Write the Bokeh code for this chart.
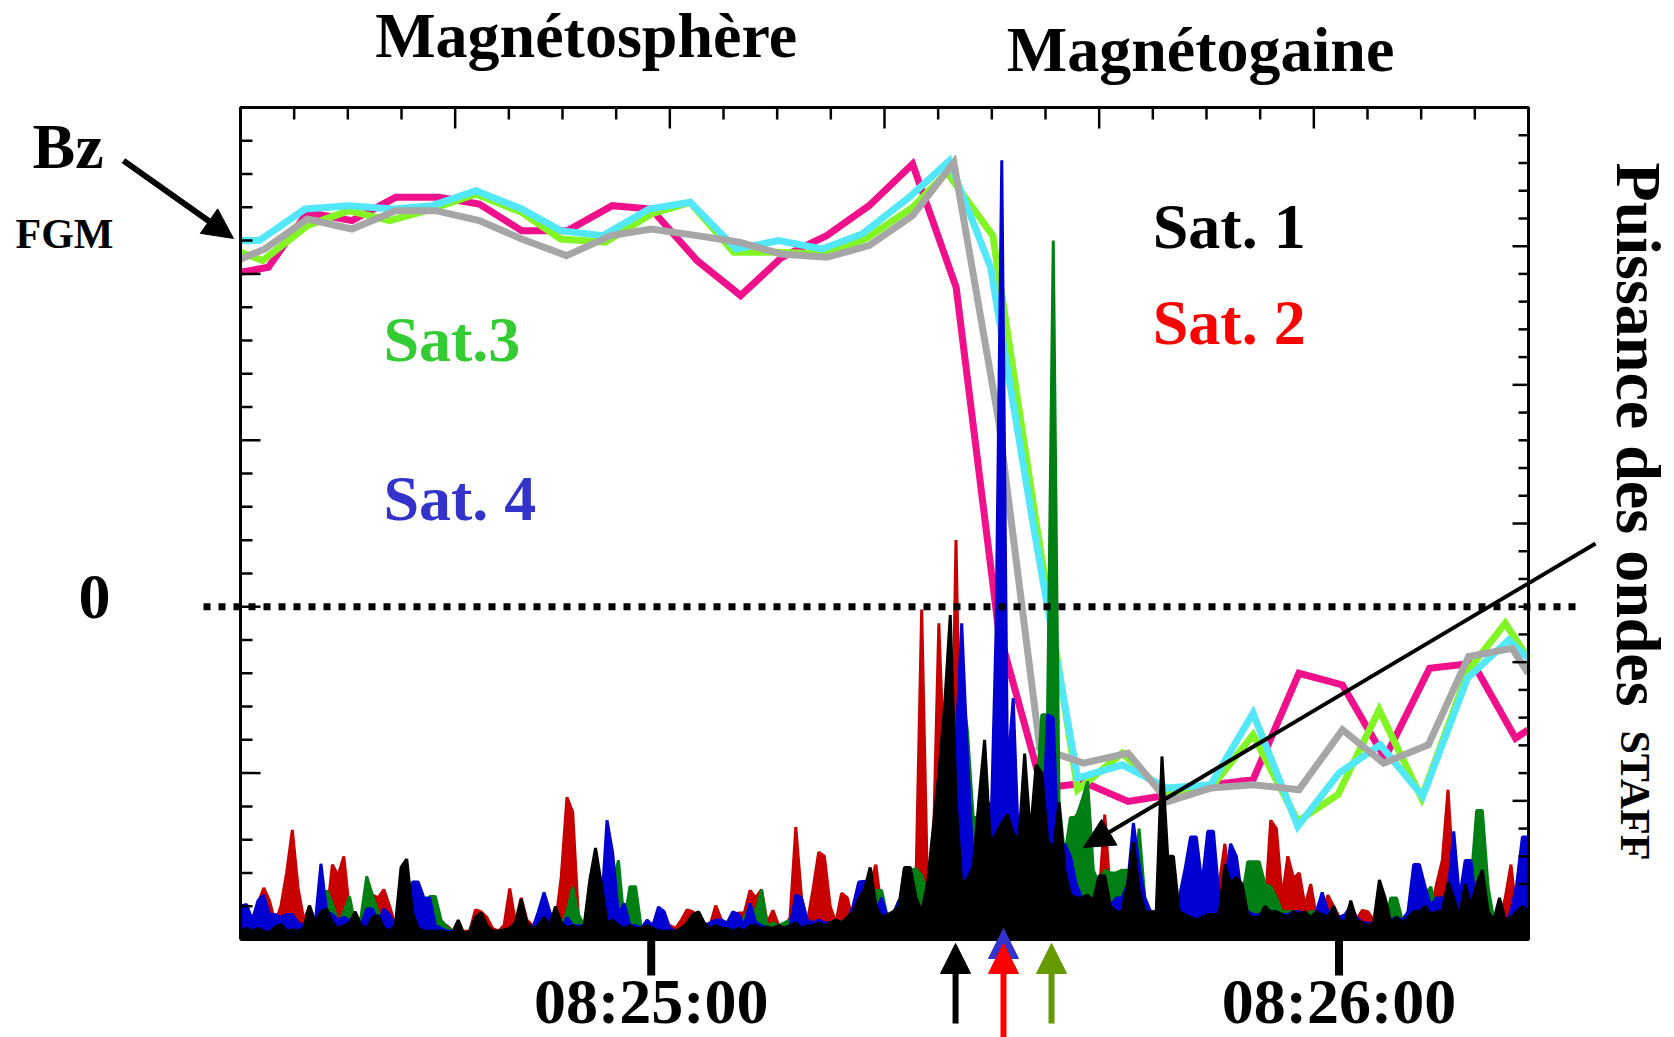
import numpy as np
from bokeh.plotting import figure
from bokeh.models import Range1d, Label, Arrow, NormalHead
from bokeh.embed import file_html
from bokeh.resources import INLINE

FONT = "Liberation Serif"

# ---------------- FGM Bz (nT); time in seconds relative to 08:25:00 ----------------
sat1_t = [-35.8, -33.7, -30.0, -26.1, -22.3, -18.8, -15.0, -11.3, -7.4, -3.5, 0.0, 4.0, 7.7, 11.3, 15.3, 19.0,
          22.8, 26.4, 30.3, 33.9, 37.7, 41.6, 45.1, 48.8, 52.5, 56.5, 60.3, 63.9, 67.8, 71.3, 75.1, 76.5]
sat1_bz = [20.9, 21.5, 23.3, 22.7, 23.8, 23.8, 23.2, 22.1, 21.1, 22.3, 22.7, 22.3, 21.9, 21.2, 21.0, 21.7,
           23.5, 26.7, 11.2, -8.5, -9.4, -8.8, -11.7, -10.9, -10.7, -11.0, -7.4, -9.4, -8.3, -3.0, -2.5, -4.0]

sat2_t = [-35.8, -33.4, -30.0, -26.1, -22.3, -18.5, -15.0, -11.3, -7.3, -3.4, 0.0, 4.0, 7.8, 11.4, 15.3, 19.0,
          22.8, 26.6, 30.3, 34.1, 37.9, 41.6, 45.3, 49.0, 52.5, 56.5, 60.3, 64.0, 67.9, 71.7, 75.4, 76.5]
sat2_bz = [20.1, 20.4, 23.7, 23.2, 24.6, 24.6, 24.2, 22.6, 22.6, 24.1, 23.9, 20.8, 18.7, 21.0, 22.3, 24.1,
           26.6, 19.2, -1.4, -10.9, -10.6, -11.7, -11.3, -10.7, -10.4, -4.0, -4.7, -9.1, -3.7, -3.4, -7.9, -7.4]

sat3_t = [-35.8, -33.9, -30.0, -26.4, -22.8, -19.1, -15.3, -11.3, -7.9, -4.0, 0.0, 3.4, 7.2, 10.9, 15.1, 18.7,
          22.8, 25.8, 29.8, 33.5, 37.2, 41.1, 45.0, 48.8, 52.5, 56.4, 59.9, 63.5, 67.2, 71.3, 74.5, 76.5]
sat3_bz = [21.3, 20.8, 22.9, 23.8, 23.2, 23.9, 24.8, 23.7, 22.1, 21.9, 23.6, 24.3, 21.3, 21.3, 21.2, 22.1,
           24.0, 26.1, 22.3, 5.4, -11.0, -8.8, -11.3, -10.9, -7.7, -12.9, -11.3, -6.2, -11.5, -3.8, -1.0, -3.1]

sat4_t = [-35.8, -34.2, -30.2, -26.4, -22.5, -19.1, -15.3, -11.3, -7.9, -4.2, -0.2, 3.4, 7.4, 11.1, 14.9, 18.4,
          22.5, 26.0, 29.6, 33.4, 37.2, 41.1, 45.0, 48.8, 52.5, 56.4, 60.0, 63.6, 67.3, 71.2, 74.8, 76.5]
sat4_bz = [22.0, 22.0, 23.9, 24.1, 23.9, 24.1, 25.0, 23.9, 22.6, 22.3, 23.9, 24.3, 21.5, 22.0, 21.5, 22.4,
           24.6, 26.8, 20.4, 4.6, -10.3, -9.5, -10.9, -10.7, -6.4, -13.2, -10.0, -8.3, -11.4, -4.3, -2.0, -3.1]

# ---------------- STAFF wave power (arbitrary units), regular sampling ----------------
staff_t0 = -35.8
staff_dt = 0.4991
staff_sat2_red = [
    0.5, 0.5, 0.7, 1.3, 1.86, 1.4, 0.6, 1.2, 2.4, 3.95,
    1.86, 0.7, 1.2, 0.6, 0.5, 0.8, 2.7, 2.3, 3.0, 1.0,
    0.5, 0.5, 0.7, 1.6, 1.5, 1.8, 1.2, 0.5, 0.4, 0.4,
    0.4, 0.3, 0.3, 0.3, 0.4, 0.56, 0.5, 0.3, 0.3, 0.3,
    0.3, 1.07, 1.0, 0.8, 0.4, 0.3, 0.5, 1.84, 0.6, 1.5,
    0.7, 0.5, 0.4, 0.5, 0.4, 0.6, 2.25, 5.13, 4.6, 0.8,
    0.4, 0.4, 0.4, 0.4, 0.4, 0.4, 0.3, 0.3, 0.3, 0.3,
    0.4, 0.3, 0.4, 0.3, 0.3, 0.5, 0.4, 0.7, 1.07, 1.0,
    0.8, 0.4, 0.5, 1.22, 0.7, 0.5, 0.8, 0.96, 0.96, 1.77,
    1.5, 1.8, 0.6, 1.05, 0.5, 0.4, 0.8, 4.05, 1.5, 0.6,
    1.8, 3.15, 3.0, 1.2, 0.6, 1.67, 1.5, 0.6, 0.5, 0.5,
    2.0, 2.7, 1.0, 0.8, 0.7, 1.0, 2.6, 2.5, 2.0, 11.9,
    2.0, 3.0, 11.4, 5.8, 2.5, 14.4, 3.0, 1.5, 1.5, 1.5,
    2.0, 4.95, 3.0, 15.0, 3.0, 2.0, 1.5, 1.5, 1.2, 1.0,
    1.0, 1.0, 1.0, 1.2, 1.5, 2.0, 4.5, 4.0, 1.5, 1.0,
    1.5, 4.5, 1.5, 1.0, 1.0, 0.8, 0.8, 0.7, 0.6, 0.6,
    0.6, 0.6, 0.7, 0.8, 1.2, 2.25, 1.0, 0.8, 0.8, 1.0,
    1.2, 2.0, 3.45, 1.5, 1.0, 0.8, 0.7, 0.7, 0.8, 1.0,
    4.3, 4.0, 1.5, 3.0, 2.2, 2.4, 1.2, 2.0, 0.8, 0.7,
    1.6, 1.2, 0.8, 0.7, 0.6, 0.7, 1.05, 1.0, 0.7, 0.6,
    0.6, 0.6, 0.6, 0.6, 0.7, 0.8, 0.8, 0.8, 1.0, 2.0,
    2.85, 5.4, 2.0, 1.2, 1.0, 1.0, 0.8, 0.8, 0.8, 0.7,
    0.7, 1.5, 2.7, 0.8, 0.8, 0.7]
staff_sat3_green = [
    0.3, 0.3, 0.4, 0.3, 0.3, 0.3, 0.4, 0.3, 0.3, 0.3,
    0.3, 0.3, 0.3, 0.4, 0.6, 1.77, 1.3, 0.6, 1.0, 1.55,
    0.5, 0.8, 2.27, 1.6, 1.0, 0.4, 0.3, 0.3, 0.3, 0.3,
    0.3, 0.3, 0.5, 1.55, 1.55, 0.7, 0.45, 0.3, 0.2, 0.2,
    0.2, 0.3, 0.3, 0.2, 0.3, 0.2, 0.3, 0.3, 0.2, 0.3,
    0.3, 0.3, 0.3, 0.3, 0.3, 0.4, 0.5, 1.0, 1.9, 0.9,
    0.5, 0.6, 1.0, 2.1, 1.5, 2.0, 2.85, 0.6, 1.9, 1.9,
    0.4, 0.3, 0.3, 0.3, 0.3, 0.3, 0.3, 0.3, 0.3, 0.3,
    0.3, 0.3, 0.3, 0.4, 0.3, 0.4, 0.5, 0.6, 0.8, 1.2,
    1.0, 1.8, 0.5, 0.6, 0.5, 0.6, 0.7, 1.0, 0.6, 0.5,
    0.5, 0.6, 0.5, 0.5, 0.6, 0.5, 0.6, 0.8, 1.0, 1.2,
    1.5, 1.77, 1.77, 0.8, 0.7, 0.8, 1.0, 2.5, 2.55, 2.3,
    1.5, 1.5, 2.0, 2.5, 3.0, 5.0, 9.2, 7.5, 4.4, 4.4,
    2.0, 2.0, 2.5, 3.0, 2.5, 2.5, 2.5, 2.5, 3.0, 5.0,
    8.1, 8.1, 25.2, 5.0, 3.0, 4.4, 4.4, 5.0, 5.7, 2.5,
    2.0, 2.5, 2.4, 2.4, 2.5, 2.5, 1.5, 4.0, 1.5, 1.0,
    0.8, 0.8, 1.0, 1.0, 0.8, 0.8, 1.0, 1.0, 1.0, 1.2,
    2.6, 1.5, 1.0, 1.0, 1.0, 1.5, 2.8, 2.8, 2.8, 2.0,
    1.9, 1.5, 1.0, 1.0, 1.0, 0.9, 0.9, 1.0, 1.0, 1.2,
    1.0, 0.8, 0.6, 0.5, 0.5, 0.5, 0.5, 0.5, 0.5, 0.6,
    0.6, 1.5, 1.5, 0.7, 0.7, 0.9, 1.2, 1.6, 1.9, 1.0,
    0.8, 0.8, 0.8, 0.8, 1.0, 2.0, 4.65, 4.65, 1.9, 0.7,
    0.5, 0.5, 0.5, 0.5, 0.6, 0.8]
staff_sat4_blue = [
    1.2, 1.26, 0.7, 1.4, 1.6, 0.9, 0.9, 0.8, 0.9, 0.9,
    0.6, 0.5, 0.5, 0.6, 2.73, 1.0, 0.9, 0.7, 0.8, 0.7,
    0.6, 0.5, 1.1, 1.1, 0.6, 1.1, 0.9, 0.4, 0.3, 0.3,
    2.07, 2.07, 1.5, 1.5, 0.5, 0.4, 0.3, 0.3, 0.2, 0.2,
    0.2, 0.3, 0.3, 0.3, 0.3, 0.3, 0.3, 0.3, 0.4, 0.4,
    0.4, 0.4, 1.0, 1.7, 1.0, 0.5, 0.4, 0.8, 0.5, 0.5,
    0.5, 0.6, 0.5, 1.0, 4.3, 3.1, 0.9, 1.3, 0.5, 0.5,
    0.4, 0.7, 0.5, 1.17, 1.0, 0.4, 0.3, 0.4, 0.5, 0.7,
    0.5, 0.5, 0.6, 0.7, 0.7, 0.6, 1.0, 0.9, 0.5, 1.3,
    0.6, 0.5, 0.4, 0.4, 0.5, 0.4, 0.5, 1.6, 1.5, 0.7,
    0.6, 0.7, 0.6, 0.6, 0.7, 0.6, 0.7, 1.2, 2.07, 2.1,
    1.5, 1.0, 1.5, 0.8, 0.9, 1.4, 1.35, 1.2, 1.0, 1.0,
    1.0, 1.5, 2.0, 3.0, 4.0, 7.0, 11.4, 6.6, 2.7, 2.0,
    2.0, 3.0, 11.1, 28.1, 6.0, 8.7, 3.0, 2.5, 2.0, 2.0,
    3.0, 8.1, 8.0, 2.5, 3.45, 3.0, 2.0, 1.5, 1.3, 1.2,
    1.0, 1.0, 1.2, 1.5, 1.5, 2.0, 4.2, 2.7, 1.5, 1.0,
    1.0, 1.0, 1.0, 1.2, 1.5, 2.5, 3.7, 3.7, 2.0, 3.9,
    3.9, 1.5, 2.0, 3.45, 3.0, 1.5, 1.0, 0.9, 0.9, 0.8,
    1.0, 1.0, 0.9, 0.9, 1.0, 1.0, 0.9, 0.8, 1.0, 1.7,
    1.0, 0.8, 0.8, 0.9, 1.2, 0.8, 0.6, 0.6, 0.5, 0.6,
    0.6, 0.7, 0.8, 0.7, 1.0, 2.7, 2.7, 1.9, 1.2, 1.5,
    1.5, 1.7, 3.9, 1.5, 2.85, 2.85, 1.0, 0.6, 0.5, 0.5,
    0.5, 0.6, 1.0, 2.0, 3.7, 3.7]
staff_sat1_black = [
    0.3, 0.4, 0.3, 0.4, 0.3, 0.25, 0.45, 0.55, 0.3, 0.35,
    0.3, 0.4, 1.23, 0.6, 1.0, 1.1, 0.6, 0.4, 0.5, 0.6,
    1.0, 0.5, 0.4, 0.8, 0.87, 0.4, 0.3, 0.5, 2.6, 2.9,
    0.96, 0.4, 0.3, 0.3, 0.3, 0.3, 0.25, 0.25, 0.7, 0.2,
    0.3, 0.8, 0.96, 0.5, 0.3, 0.3, 0.35, 0.4, 0.6, 1.45,
    0.6, 0.4, 0.5, 0.8, 0.5, 1.19, 0.6, 0.4, 0.5, 0.4,
    0.5, 2.15, 3.3, 2.0, 0.6, 0.7, 0.5, 0.4, 0.5, 0.4,
    0.4, 0.5, 0.4, 0.3, 0.3, 0.3, 0.3, 0.4, 0.6, 0.9,
    1.0, 0.6, 0.4, 0.5, 0.4, 0.4, 0.3, 0.4, 0.3, 0.5,
    0.5, 0.4, 0.45, 0.4, 0.5, 0.4, 0.5, 0.6, 0.4, 0.5,
    0.5, 0.6, 0.5, 0.6, 0.7, 0.6, 0.8, 1.0, 1.45, 1.8,
    2.6, 1.2, 0.8, 0.9, 1.0, 1.2, 2.6, 2.6, 1.5, 1.0,
    2.0, 4.0, 6.0, 8.4, 11.7, 5.0, 2.0, 2.2, 2.6, 5.0,
    7.2, 3.5, 3.8, 4.2, 4.5, 3.8, 3.6, 6.7, 3.8, 6.3,
    6.0, 3.6, 3.2, 4.95, 2.5, 1.6, 1.5, 1.5, 1.6, 1.4,
    2.3, 2.3, 1.2, 1.0, 1.0, 2.0, 3.5, 1.8, 1.0, 1.0,
    1.0, 6.6, 3.0, 3.0, 1.0, 0.9, 0.8, 0.7, 0.8, 0.9,
    0.9, 0.9, 2.7, 2.0, 2.25, 2.0, 0.9, 0.8, 0.8, 1.2,
    1.0, 1.0, 0.9, 0.8, 1.0, 0.9, 1.0, 0.8, 1.0, 0.9,
    0.8, 1.2, 0.7, 0.6, 1.4, 0.7, 0.6, 0.5, 0.6, 2.15,
    1.5, 0.6, 0.8, 0.6, 0.8, 1.0, 1.0, 1.2, 0.9, 1.0,
    1.0, 2.07, 1.5, 0.8, 2.0, 1.2, 2.0, 2.5, 1.0, 0.7,
    1.5, 0.7, 0.8, 1.0, 1.2, 1.0]

# ---------------- ticks / labels ----------------
time_ticks = [0, 60]
time_labels = ["08:25:00", "08:26:00"]
bz_major = [-20, -10, 0, 10, 20, 30]
bz_minor = list(range(-20, 31, 2))
pw_major = [0, 5, 10, 15, 20, 25, 30]
pw_minor = list(range(0, 31))
top_major = list(range(7))
top_minor = [i * 0.25 for i in range(25)]
crossing_t = {"sat1": 26.55, "sat2": 30.73, "sat4": 30.73, "sat3": 34.92}

# ---------------- geometry of the plot box (data units) ----------------
T_START, T_END = -35.83, 76.53
BZ_MIN, BZ_MAX = -20.0, 30.0
PW_MIN, PW_MAX = 0.0, 30.0
TOP_MIN, TOP_MAX = 0.0, 6.0
W, H = 1674, 1037
BOX_L, BOX_R, BOX_T, BOX_B = 240, 1528, 107, 939          # pixel box of the axes
PX_S = (BOX_R - BOX_L) / (T_END - T_START)                 # px per second
PX_NT = (BOX_B - BOX_T) / (BZ_MAX - BZ_MIN)                # px per nT
PX_PW = (BOX_B - BOX_T) / (PW_MAX - PW_MIN)
PX_TOP = (BOX_R - BOX_L) / (TOP_MAX - TOP_MIN)

x_rng = Range1d(T_START - BOX_L / PX_S, T_END + (W - BOX_R) / PX_S)
y_rng = Range1d(BZ_MIN - (H - BOX_B) / PX_NT, BZ_MAX + BOX_T / PX_NT)

p = figure(width=W, height=H, x_range=x_rng, y_range=y_rng,
           output_backend="svg", toolbar_location=None,
           x_axis_location=None, y_axis_location=None, min_border=0)
p.extra_y_ranges = {"power": Range1d(PW_MIN - (H - BOX_B) / PX_PW, PW_MAX + BOX_T / PX_PW)}
p.extra_x_ranges = {"top": Range1d(TOP_MIN - BOX_L / PX_TOP, TOP_MAX + (W - BOX_R) / PX_TOP)}
p.outline_line_color = None
p.xgrid.visible = False
p.ygrid.visible = False
p.background_fill_color = "white"
p.border_fill_color = "white"

# FGM Bz lines
for tt, bb, col in [(sat2_t, sat2_bz, "#f0108c"), (sat3_t, sat3_bz, "#84f524"),
                    (sat4_t, sat4_bz, "#52e8fa"), (sat1_t, sat1_bz, "#a6a6a6")]:
    p.line(tt, bb, line_color=col, line_width=7, line_join="miter")

# STAFF wave power
n = min(len(staff_sat2_red), len(staff_sat3_green), len(staff_sat4_blue), len(staff_sat1_black))
staff_t = staff_t0 + staff_dt * np.arange(n)
for vals, col in [(staff_sat2_red, "#c80000"), (staff_sat3_green, "#008014"),
                  (staff_sat4_blue, "#0000d2"), (staff_sat1_black, "#000000")]:
    v = vals[:n]
    p.varea(x=staff_t, y1=0, y2=v, fill_color=col, y_range_name="power")
    p.line(staff_t, v, line_color=col, line_width=3, y_range_name="power")

# axes box
p.line([T_START, T_START, T_END, T_END, T_START], [BZ_MIN, BZ_MAX, BZ_MAX, BZ_MIN, BZ_MIN],
       line_color="black", line_width=3)
# left ticks (Bz)
ll = [(20 if v in bz_major else 12) / PX_S for v in bz_minor]
p.segment(x0=[T_START] * len(bz_minor), y0=bz_minor, x1=[T_START + d for d in ll], y1=bz_minor,
          line_color="black", line_width=2.5)
# right ticks (wave power)
rl = [(16 if v in pw_major else 10) / PX_S for v in pw_minor]
p.segment(x0=[T_END - d for d in rl], y0=pw_minor, x1=[T_END] * len(pw_minor), y1=pw_minor,
          line_color="black", line_width=2.5, y_range_name="power")
# top ticks
tl = [(21 if v in top_major else 12) / PX_NT for v in top_minor]
p.segment(x0=top_minor, y0=[BZ_MAX] * len(top_minor), x1=top_minor, y1=[BZ_MAX - d for d in tl],
          line_color="black", line_width=2.5, x_range_name="top")
# bottom time ticks
p.segment(x0=time_ticks, y0=[BZ_MIN] * len(time_ticks), x1=time_ticks,
          y1=[BZ_MIN - 36 / PX_NT] * len(time_ticks), line_color="black", line_width=8, line_cap="butt")

# dotted zero line of Bz (extends beyond the box)
p.line([T_START - 37 / PX_S, T_END + 50 / PX_S], [0, 0], line_color="black", line_width=7,
       line_dash="7 8", line_cap="butt")


def txt(x, y, s, size, color="black", align="left", angle=0.0):
    # rendered alphabetic baseline sits ~1/3 em below the anchor: compensate
    fix = 0.333 * size
    if angle == 0.0:
        y = y + fix / PX_NT
    else:
        x = x + fix / PX_S
    p.add_layout(Label(x=x, y=y, text=s, text_font=FONT, text_font_style="bold",
                       text_font_size=f"{size}px", text_color=color, text_align=align,
                       text_baseline="alphabetic", angle=angle))


txt(-5.68, 33.06, "Magnétosphère", 64, align="center")
txt(47.92, 32.19, "Magnétogaine", 64, align="center")
txt(-53.97, 26.39, "Bz", 64)
txt(-55.46, 21.54, "FGM", 42)
txt(-47.17, -0.71, "0", 64, align="right")
txt(-23.36, 14.80, "Sat.3", 64, color="#33cc33")
txt(-23.36, 5.24, "Sat. 4", 64, color="#3333cc")
txt(43.75, 21.59, "Sat. 1", 64)
txt(43.75, 15.82, "Sat. 2", 64, color="#ff0000")
txt(84.30, 26.69, "Puissance des ondes", 64, angle=-np.pi / 2)
txt(84.56, -7.44, "STAFF", 42, angle=-np.pi / 2)
for tv, tlab in zip(time_ticks, time_labels):
    txt(tv, -25.0, tlab, 64, align="center")

# arrows
p.add_layout(Arrow(end=NormalHead(size=30, fill_color="black", line_color="black"),
                   x_start=-46.04, y_start=26.81, x_end=-36.44, y_end=22.13,
                   line_color="black", line_width=6))
p.add_layout(Arrow(end=NormalHead(size=30, fill_color="black", line_color="black"),
                   x_start=82.38, y_start=3.80, x_end=37.71, y_end=-14.47,
                   line_color="black", line_width=4))

# boundary-crossing markers below the time axis
p.add_layout(Arrow(end=NormalHead(size=30, fill_color="#3333cc", line_color="#3333cc"),
                   x_start=crossing_t["sat4"], y_start=-21.2, x_end=crossing_t["sat4"], y_end=-19.34,
                   line_color=None))
for key, col, y0 in [("sat1", "black", -25.05), ("sat2", "#ff0000", -26.5), ("sat3", "#669900", -25.05)]:
    p.add_layout(Arrow(end=NormalHead(size=30, fill_color=col, line_color=col),
                       x_start=crossing_t[key], y_start=y0, x_end=crossing_t[key], y_end=-20.24,
                       line_color=col, line_width=6))

open("out.html", "w").write(file_html(p, INLINE))
